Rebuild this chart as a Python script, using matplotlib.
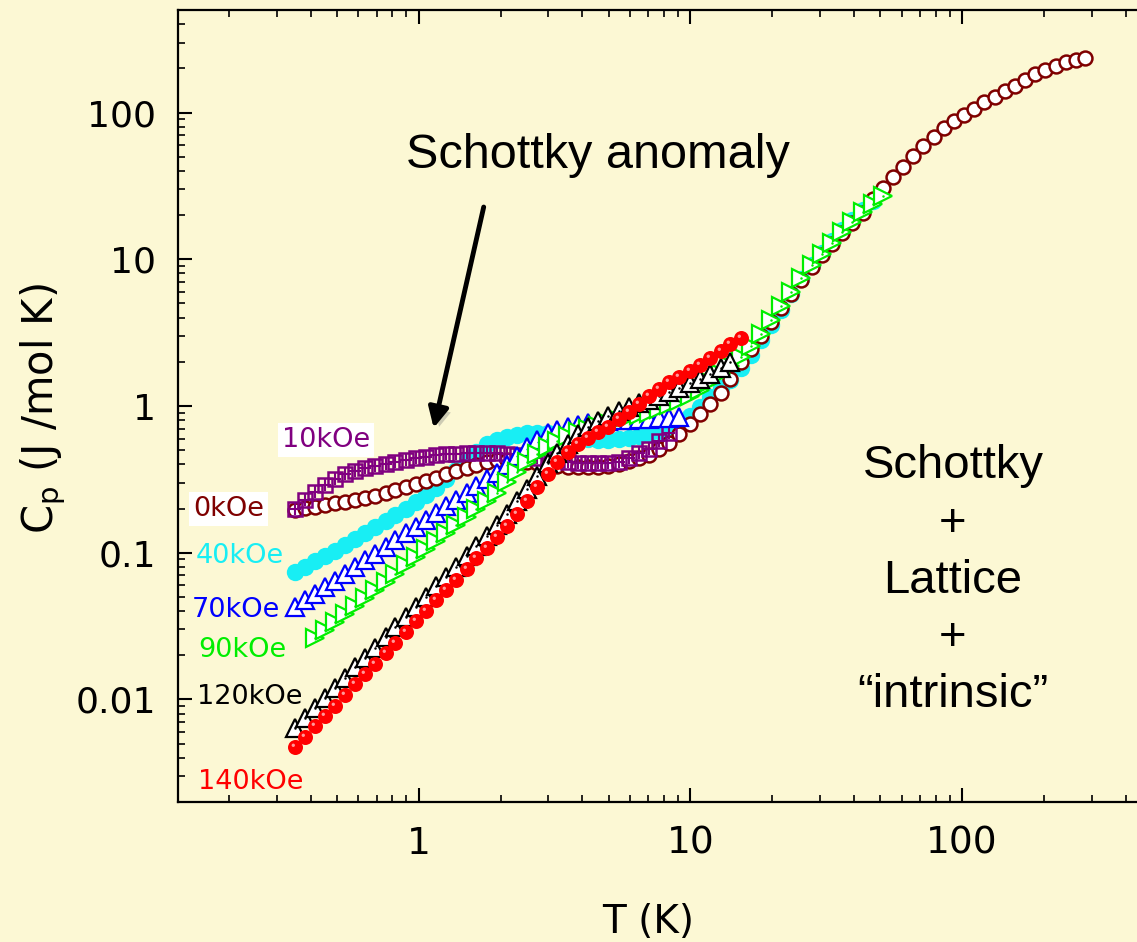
import matplotlib
matplotlib.use("Agg")
import matplotlib.pyplot as plt
from matplotlib.ticker import FixedLocator, FixedFormatter, LogLocator, NullFormatter
from matplotlib.path import Path
import matplotlib.patheffects as pe

# ---------------- data ----------------
T_K = [0.35, 0.38, 0.415, 0.45, 0.49, 0.535, 0.585, 0.635, 0.69, 0.755,
       0.82, 0.895, 0.975, 1.06, 1.16, 1.26, 1.37, 1.5, 1.63, 1.78,
       1.94, 2.11, 2.3, 2.5, 2.73, 2.98, 3.24, 3.53, 3.85, 4.2,
       4.58, 4.99, 5.44, 5.93, 6.46, 7.04, 7.67, 8.36, 9.11, 9.93,
       10.8, 11.8, 12.9, 14.0, 15.3, 16.7, 18.2, 19.8, 21.6, 23.5,
       25.6, 27.9, 30.4, 33.2, 36.2, 39.4, 43.0, 46.8, 51.0, 55.6,
       60.6, 66.1, 72.0, 78.5, 85.5, 93.2, 101.6, 110.8, 120.7, 131.6,
       143.5, 156.4, 170.5, 185.8, 202.5, 220.7, 240.6, 262.3, 283.0]

T_140 = T_K[0:45]
C_140 = [0.00475, 0.00556, 0.00661, 0.00773, 0.00905, 0.0108, 0.0128, 0.0149, 0.0175, 0.0208,
         0.0243, 0.0289, 0.0343, 0.0401, 0.0477, 0.0558, 0.0653, 0.0776, 0.0922, 0.108,
         0.128, 0.152, 0.184, 0.225, 0.281, 0.344, 0.415, 0.486, 0.551, 0.605,
         0.665, 0.719, 0.816, 0.910, 1.03, 1.17, 1.31, 1.46, 1.58, 1.73,
         1.90, 2.12, 2.37, 2.64, 2.91]

T_120 = T_K[0:44]
C_120 = [0.00640, 0.00749, 0.00877, 0.0103, 0.0120, 0.0140, 0.0167, 0.0192, 0.0225, 0.0267,
         0.0312, 0.0365, 0.0427, 0.0500, 0.0594, 0.0684, 0.0800, 0.0951, 0.111, 0.130,
         0.155, 0.184, 0.225, 0.272, 0.334, 0.409, 0.478, 0.551, 0.645, 0.719,
         0.790, 0.855, 0.925, 0.984, 1.05, 1.10, 1.17, 1.25, 1.33, 1.43,
         1.53, 1.65, 1.82, 1.99]

T_90 = T_K[2:59]
C_90 = [0.0263, 0.0298, 0.0338, 0.0383, 0.0434, 0.0492, 0.0558, 0.0633, 0.0717, 0.0826,
        0.0936, 0.106, 0.120, 0.136, 0.155, 0.175, 0.199, 0.225, 0.256, 0.304,
        0.355, 0.415, 0.471, 0.526, 0.578, 0.625, 0.665, 0.697, 0.731, 0.766,
        0.803, 0.842, 0.868, 0.896, 0.954, 1.02, 1.08, 1.17, 1.29, 1.46,
        1.65, 1.87, 2.16, 2.56, 3.09, 3.85, 4.80, 5.98, 7.45, 9.13,
        10.9, 12.9, 15.3, 17.9, 21.0, 23.8, 27.0]

T_70 = T_K[0:39]
C_70 = [0.0427, 0.0477, 0.0524, 0.0585, 0.0643, 0.0717, 0.0800, 0.0893, 0.0981, 0.110,
        0.122, 0.136, 0.150, 0.167, 0.187, 0.208, 0.229, 0.256, 0.285, 0.318,
        0.350, 0.396, 0.456, 0.526, 0.587, 0.655, 0.686, 0.719, 0.742, 0.766,
        0.778, 0.790, 0.803, 0.803, 0.816, 0.816, 0.829, 0.829, 0.842]

T_40 = T_K[0:58]
C_40 = [0.0740, 0.0800, 0.0879, 0.0951, 0.103, 0.113, 0.124, 0.136, 0.150, 0.165,
        0.181, 0.199, 0.222, 0.248, 0.276, 0.318, 0.367, 0.429, 0.486, 0.551,
        0.587, 0.615, 0.634, 0.655, 0.655, 0.655, 0.645, 0.625, 0.605, 0.596,
        0.587, 0.587, 0.596, 0.605, 0.625, 0.655, 0.676, 0.708, 0.754, 0.855,
        0.984, 1.15, 1.33, 1.50, 1.82, 2.23, 2.82, 3.56, 4.51, 5.79,
        7.33, 9.13, 11.0, 13.3, 15.8, 18.5, 21.6, 24.9]

T_10 = T_K[0:38]
C_10 = [0.199, 0.229, 0.260, 0.290, 0.318, 0.344, 0.361, 0.378, 0.390, 0.403,
        0.415, 0.429, 0.442, 0.449, 0.464, 0.471, 0.471, 0.478, 0.478, 0.478,
        0.478, 0.471, 0.464, 0.456, 0.442, 0.436, 0.429, 0.415, 0.409, 0.409,
        0.409, 0.409, 0.415, 0.442, 0.478, 0.510, 0.578, 0.655]

T_0 = T_K[0:79]
C_0 = [0.196, 0.202, 0.205, 0.212, 0.218, 0.222, 0.229, 0.236, 0.244, 0.256,
       0.268, 0.281, 0.294, 0.308, 0.323, 0.344, 0.361, 0.378, 0.396, 0.415,
       0.429, 0.429, 0.422, 0.415, 0.409, 0.396, 0.390, 0.384, 0.384, 0.384,
       0.384, 0.390, 0.403, 0.422, 0.442, 0.464, 0.510, 0.560, 0.645, 0.754,
       0.882, 1.03, 1.23, 1.53, 1.99, 2.45, 3.00, 3.73, 4.65, 5.79,
       7.22, 8.85, 10.7, 12.7, 15.1, 17.6, 20.6, 25.7, 30.6, 36.3,
       42.5, 50.5, 59.0, 68.0, 78.3, 87.4, 96.0, 106, 118, 127,
       140, 151, 166, 183, 195, 207, 220, 228, 235]

field_labels = ["10kOe", "0kOe", "40kOe", "70kOe", "90kOe", "120kOe", "140kOe"]
x_ticks = [1, 10, 100]
x_tick_labels = ["1", "10", "100"]
y_ticks = [0.01, 0.1, 1, 10, 100]
y_tick_labels = ["0.01", "0.1", "1", "10", "100"]

# ---------------- styling ----------------
BG = "#FCF8D4"
MAROON = "#7F0000"
PURPLE = "#800080"
CYAN = "#18EEF4"
BLUE = "#0000FF"
GREEN = "#00EE00"
RED = "#FF0000"

W, H = 1137, 942
fig = plt.figure(figsize=(W / 100, H / 100), dpi=100, facecolor=BG)
ax = fig.add_axes([178 / W, 1 - 802 / H, 1 - 178 / W, 792 / H])
ax.set_facecolor(BG)
ax.set_xscale("log")
ax.set_yscale("log")
ax.set_xlim(0.13, 440)
ax.set_ylim(0.002, 500)

# series (bottom to top)
ax.plot(T_40, C_40, ls="none", marker="o", ms=12.5, mfc=CYAN, mec="none", zorder=2)
ax.plot(T_0, C_0, ls="none", marker="o", ms=10, mfc="white", mec=MAROON, mew=1.8, zorder=3)
ax.plot(T_10, C_10, ls="none", marker="s", ms=9.5, mfc="none", mec=PURPLE, mew=1.8, zorder=4)
ax.plot(T_10, C_10, ls="none", marker="+", ms=8.5, mec=PURPLE, mew=1.5, zorder=4)
ax.plot(T_70, C_70, ls="none", marker="^", ms=12.5, mfc="white", mec=BLUE, mew=1.6, zorder=5)
ax.plot(T_90, C_90, ls="none", marker=">", ms=12.5, mfc="white", mec=GREEN, mew=1.6, zorder=6)
ax.plot(T_90, C_90, ls="none", marker="o", ms=1.8, mfc=GREEN, mec="none", zorder=6)
ax.plot(T_120, C_120, ls="none", marker="^", ms=12.5, mfc="white", mec="black", mew=1.6, zorder=7)
ax.plot(T_120, C_120, ls="none", marker="o", ms=1.8, mfc="black", mec="none", zorder=7)
ax.plot(T_140, C_140, ls="none", marker="o", ms=10.8, mfc=RED, mec="none", zorder=8)
highlight = Path.circle(center=(-1.6, 1.6), radius=1.2)
ax.plot(T_140, C_140, ls="none", marker=highlight, ms=5.6, mfc="#FF9A9A", mec="none", zorder=8)

# axes styling
ax.spines["right"].set_visible(False)
for s in ("left", "bottom", "top"):
    ax.spines[s].set_linewidth(1.6)
ax.xaxis.set_major_locator(FixedLocator(x_ticks))
ax.xaxis.set_major_formatter(FixedFormatter(x_tick_labels))
ax.yaxis.set_major_locator(FixedLocator(y_ticks))
ax.yaxis.set_major_formatter(FixedFormatter(y_tick_labels))
ax.xaxis.set_minor_locator(LogLocator(base=10, subs=range(2, 10), numticks=20))
ax.yaxis.set_minor_locator(LogLocator(base=10, subs=range(2, 10), numticks=20))
ax.xaxis.set_minor_formatter(NullFormatter())
ax.yaxis.set_minor_formatter(NullFormatter())
ax.tick_params(which="both", direction="in", top=True, right=False, width=1.5)
ax.tick_params(which="major", length=10)
ax.tick_params(which="minor", length=5, width=1.2)
ax.tick_params(axis="y", which="major", labelsize=26, pad=16)
ax.tick_params(axis="x", which="major", labelsize=27, pad=17)
for lab in ax.get_xticklabels() + ax.get_yticklabels():
    lab.set_fontfamily("DejaVu Sans")

fig.text(43 / W, 1 - 409 / H, r"C$_{\rm p}$ (J /mol K)", rotation=90,
         ha="center", va="center", fontsize=30, family="DejaVu Sans")
fig.text(648 / W, 1 - 922 / H, "T (K)", ha="center", va="center",
         fontsize=28, family="DejaVu Sans")

# field labels
def fx(px):
    return (px - 178) / 959

def fy(py):
    return (802 - py) / 792

label_pos = [(282, 440), (193, 509), (196, 556), (192, 610), (198, 650), (197, 697), (198, 782)]
label_col = [PURPLE, MAROON, CYAN, BLUE, GREEN, "black", RED]
label_box = [True, True, False, False, False, False, False]
for txt, (px, py), col, boxed in zip(field_labels, label_pos, label_col, label_box):
    kw = {}
    if boxed:
        kw["bbox"] = dict(boxstyle="square,pad=0.15", facecolor="white", edgecolor="none")
    ax.text(fx(px), fy(py), txt, transform=ax.transAxes, color=col, fontsize=19.5,
            family="DejaVu Sans", ha="left", va="center", zorder=10, **kw)

# annotations
ax.text(fx(598), fy(168), "Schottky anomaly", transform=ax.transAxes, ha="center",
        va="baseline", fontsize=35, family="Liberation Sans", zorder=10)
right_lines = ["Schottky", "+", "Lattice", "+", "\u201cintrinsic\u201d"]
right_base = [478, 536, 593, 650, 707]
for line, by in zip(right_lines, right_base):
    ax.text(fx(953), fy(by), line, transform=ax.transAxes, ha="center", va="baseline",
            fontsize=34, family="Liberation Sans", zorder=10)

ax.annotate("", xy=(1.135, 0.708), xytext=(1.734, 22.7), xycoords="data",
            arrowprops=dict(arrowstyle="-|>", color="black", lw=3.5, mutation_scale=30,
                            shrinkA=0, shrinkB=0,
                            path_effects=[pe.withSimplePatchShadow(offset=(3, -3), shadow_rgbFace="#777777", alpha=0.35)]),
            zorder=10)

fig.savefig("out.png", dpi=100, facecolor=BG)
